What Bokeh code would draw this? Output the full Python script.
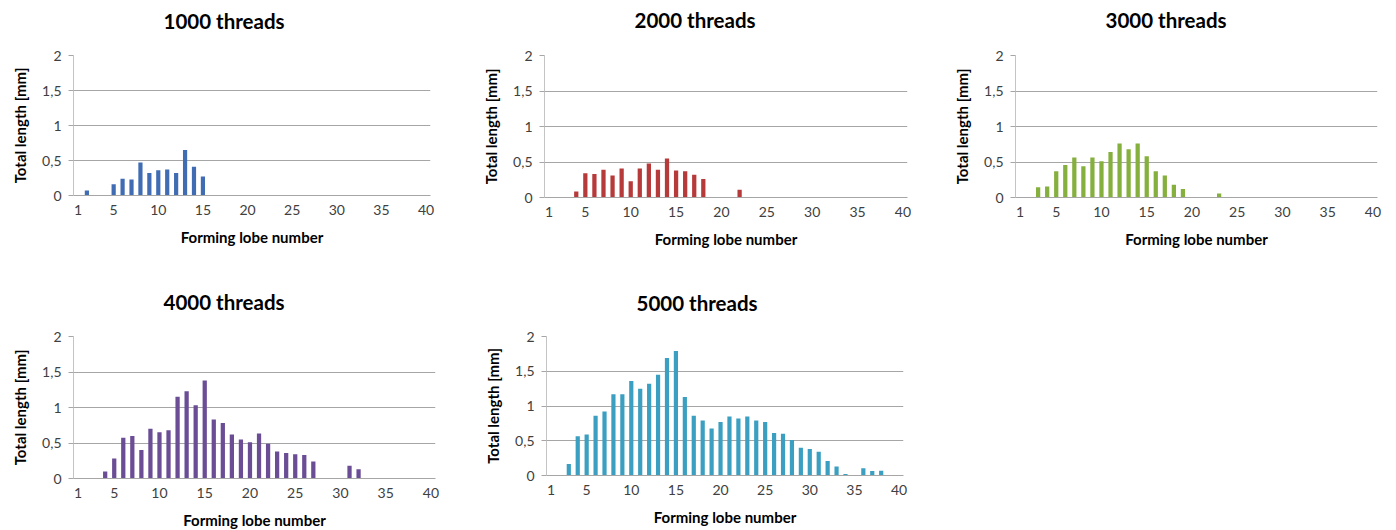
from bokeh.plotting import figure
from bokeh.layouts import column, row
from bokeh.models import FixedTicker, Range1d, Title
from bokeh.embed import file_html
from bokeh.resources import INLINE

titles = ["1000 threads", "2000 threads", "3000 threads", "4000 threads", "5000 threads"]
colors = ["#3F6CB3", "#B73A3A", "#86B03E", "#6B4D96", "#3A9FC0"]

lobes_1000 = [2, 5, 6, 7, 8, 9, 10, 11, 12, 13, 14, 15]
len_1000 = [0.07, 0.16, 0.24, 0.23, 0.47, 0.32, 0.36, 0.37, 0.32, 0.65, 0.41, 0.27]

lobes_2000 = [4, 5, 6, 7, 8, 9, 10, 11, 12, 13, 14, 15, 16, 17, 18, 22]
len_2000 = [0.085, 0.34, 0.33, 0.39, 0.31, 0.41, 0.23, 0.41, 0.48, 0.39, 0.55, 0.38, 0.37, 0.32, 0.26, 0.11]

lobes_3000 = [3, 4, 5, 6, 7, 8, 9, 10, 11, 12, 13, 14, 15, 16, 17, 18, 19, 23]
len_3000 = [0.146, 0.155, 0.37, 0.457, 0.565, 0.44, 0.565, 0.51, 0.64, 0.76, 0.68, 0.76, 0.58, 0.37, 0.31, 0.18, 0.12, 0.056]

lobes_4000 = [4, 5, 6, 7, 8, 9, 10, 11, 12, 13, 14, 15, 16, 17, 18, 19, 20, 21, 22, 23, 24, 25, 26, 27, 31, 32]
len_4000 = [0.10, 0.28, 0.574, 0.60, 0.40, 0.70, 0.65, 0.68, 1.15, 1.23, 1.03, 1.38, 0.83, 0.78, 0.62, 0.55, 0.51, 0.635,
            0.49, 0.38, 0.36, 0.34, 0.33, 0.24, 0.18, 0.13]

lobes_5000 = [3, 4, 5, 6, 7, 8, 9, 10, 11, 12, 13, 14, 15, 16, 17, 18, 19, 20, 21, 22, 23, 24, 25, 26, 27, 28, 29, 30,
              31, 32, 33, 34, 36, 37, 38]
len_5000 = [0.167, 0.565, 0.59, 0.86, 0.92, 1.17, 1.17, 1.36, 1.25, 1.32, 1.45, 1.69, 1.79, 1.13, 0.86, 0.79, 0.675, 0.77,
            0.85, 0.82, 0.85, 0.79, 0.77, 0.61, 0.60, 0.51, 0.40, 0.38, 0.34, 0.21, 0.13, 0.02, 0.105, 0.065, 0.07]

x_ticks = [1, 5, 10, 15, 20, 25, 30, 35, 40]
y_ticks = [0, 0.5, 1, 1.5, 2]
y_tick_labels = ["0", "0,5", "1", "1,5", "2"]
x_title = "Forming lobe number"
y_title = "Total length [mm]"

FONT = "Lato"

def make(title, lobes, vals, color, fw, fh, left, right, top, bottom, gap):
    p = figure(frame_width=fw, frame_height=fh, min_border_left=left, min_border_right=right,
               min_border_top=top, min_border_bottom=bottom, output_backend="svg",
               toolbar_location=None, x_range=Range1d(0.5, 40.5), y_range=Range1d(0, 2))
    p.outline_line_color = None
    p.background_fill_color = "white"
    p.border_fill_color = "white"
    p.vbar(x=lobes, top=vals, width=0.47, color=color, line_color=None)

    # spacer close to the frame, then the title above it
    p.add_layout(Title(text=" ", text_font_size="1px", standoff=gap), "above")
    p.add_layout(Title(text=title, align="left", offset=90, standoff=0, text_font=FONT,
                       text_font_style="bold", text_font_size="20.5px", text_color="#000000"), "above")

    p.xgrid.grid_line_color = None
    p.ygrid.grid_line_color = "#A6A6A6"
    p.ygrid.ticker = FixedTicker(ticks=y_ticks)

    xa = p.xaxis[0]
    xa.ticker = FixedTicker(ticks=x_ticks)
    xa.major_tick_out = 0
    xa.major_tick_in = 0
    xa.minor_tick_out = 0
    xa.minor_tick_in = 0
    xa.axis_line_color = "#A6A6A6"
    xa.major_label_standoff = 9
    xa.major_label_text_font = FONT
    xa.major_label_text_font_size = "14px"
    xa.major_label_text_color = "#404040"
    xa.axis_label = x_title
    xa.axis_label_text_font = FONT
    xa.axis_label_text_font_style = "bold"
    xa.axis_label_text_font_size = "15px"
    xa.axis_label_text_color = "#000000"
    xa.axis_label_standoff = 10

    ya = p.yaxis[0]
    ya.ticker = FixedTicker(ticks=y_ticks)
    ya.major_label_overrides = {t: l for t, l in zip(y_ticks, y_tick_labels)}
    ya.major_tick_out = 5
    ya.major_tick_in = 0
    ya.minor_tick_out = 0
    ya.minor_tick_in = 0
    ya.major_tick_line_color = "#A6A6A6"
    ya.axis_line_color = "#C4C4C4"
    ya.major_label_standoff = 7
    ya.major_label_text_font = FONT
    ya.major_label_text_font_size = "14px"
    ya.major_label_text_color = "#404040"
    ya.axis_label = y_title
    ya.axis_label_text_font = FONT
    ya.axis_label_text_font_style = "bold"
    ya.axis_label_text_font_size = "15px"
    ya.axis_label_text_color = "#000000"
    ya.axis_label_standoff = 10
    return p

p1 = make(titles[0], lobes_1000, len_1000, colors[0], 357, 140, 73, 40, 55, 85, 20)
p2 = make(titles[1], lobes_2000, len_2000, colors[1], 363, 142, 74, 35, 52, 86, 21)
p3 = make(titles[2], lobes_3000, len_3000, colors[2], 362, 142, 73, 19, 52, 86, 21)
p4 = make(titles[3], lobes_4000, len_4000, colors[3], 362, 142, 73, 35, 54, 54, 20)
p5 = make(titles[4], lobes_5000, len_5000, colors[4], 357, 139, 76, 37, 56, 55, 19)

layout = column(row(p1, p2, p3), row(p4, p5))
open("out.html", "w").write(file_html(layout, INLINE))
